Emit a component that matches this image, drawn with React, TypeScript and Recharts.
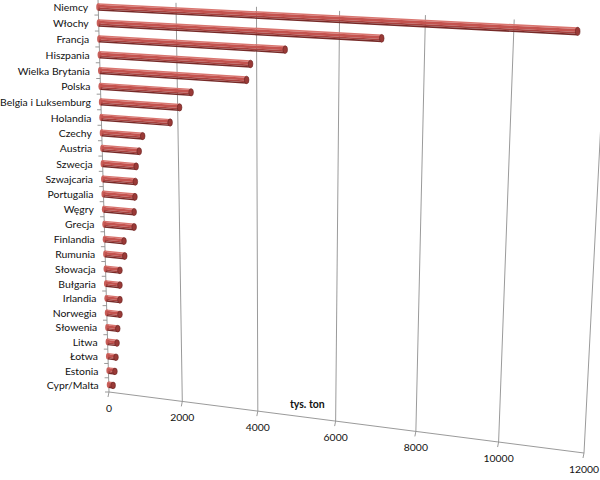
import { Bar, BarChart, CartesianGrid, XAxis, YAxis } from "recharts";

// Wartości (tys. ton)
const countries = [
  "Niemcy",
  "Włochy",
  "Francja",
  "Hiszpania",
  "Wielka Brytania",
  "Polska",
  "Belgia i Luksemburg",
  "Holandia",
  "Czechy",
  "Austria",
  "Szwecja",
  "Szwajcaria",
  "Portugalia",
  "Węgry",
  "Grecja",
  "Finlandia",
  "Rumunia",
  "Słowacja",
  "Bułgaria",
  "Irlandia",
  "Norwegia",
  "Słowenia",
  "Litwa",
  "Łotwa",
  "Estonia",
  "Cypr/Malta",
];

const tonnes = [
  11400, 7000, 4700, 3850, 3750, 2350, 2050, 1800, 1080, 980, 890, 860, 840, 810, 800, 520, 530, 390,
  380, 370, 360, 290, 260, 220, 180, 120,
];

const valueTicks = [0, 2000, 4000, 6000, 8000, 10000, 12000];

const data = countries.map((name, i) => ({ name, value: tonnes[i] }));

// flat plot box (what recharts lays out) and the skewed 3d-ish box it is projected onto
const L = 100;
const T = 0;
const W = 490;
const H = 393;
const TL = [98, -1];
const TR = [606, 24];
const BR = [584, 453];
const BL = [109, 392];

const FONT = "Lato, 'Open Sans', sans-serif";
const GRID = "#8e8e8e";

function makeProjection() {
  const [x0, y0] = TL;
  const [x1, y1] = TR;
  const [x2, y2] = BR;
  const [x3, y3] = BL;
  const dx1 = x1 - x2;
  const dx2 = x3 - x2;
  const dx3 = x0 - x1 + x2 - x3;
  const dy1 = y1 - y2;
  const dy2 = y3 - y2;
  const dy3 = y0 - y1 + y2 - y3;
  const den = dx1 * dy2 - dx2 * dy1;
  const g = (dx3 * dy2 - dx2 * dy3) / den;
  const h = (dx1 * dy3 - dx3 * dy1) / den;
  const a = x1 - x0 + g * x1;
  const b = x3 - x0 + h * x3;
  const d = y1 - y0 + g * y1;
  const e = y3 - y0 + h * y3;
  return (u: number, v: number): [number, number] => {
    const w = g * u + h * v + 1;
    return [(a * u + b * v + x0) / w, (d * u + e * v + y0) / w];
  };
}

const P = makeProjection();
const toU = (x: number) => (x - L) / W;
const toV = (y: number) => (y - T) / H;

const pts = (list: [number, number][]) => list.map((p) => `${p[0].toFixed(1)},${p[1].toFixed(1)}`).join(" ");

const STRIPS: [number, number, string][] = [
  [0, 0.2, "#d9756f"],
  [0.2, 0.58, "#c4534f"],
  [0.58, 0.8, "#a8413e"],
  [0.8, 1, "#772a28"],
];

function CylinderBar(props: any) {
  const { x, y, width, height } = props;
  if (width == null || height == null) return null;
  const u0 = toU(x);
  const u1 = toU(x + width);
  const v0 = toV(y);
  const v1 = toV(y + height);
  const lt = P(u0, v0);
  const lb = P(u0, v1);
  const rt = P(u1, v0);
  const rb = P(u1, v1);
  const ry = Math.hypot(rb[0] - rt[0], rb[1] - rt[1]) / 2;
  const ly = Math.hypot(lb[0] - lt[0], lb[1] - lt[1]) / 2;
  return (
    <g>
      <ellipse cx={(lt[0] + lb[0]) / 2} cy={(lt[1] + lb[1]) / 2} rx={2} ry={ly} fill="#c9605b" />
      {STRIPS.map(([a, b, c]) => {
        const va = v0 + (v1 - v0) * a;
        const vb = v0 + (v1 - v0) * b;
        return <polygon key={a} points={pts([P(u0, va), P(u1, va), P(u1, vb), P(u0, vb)])} fill={c} />;
      })}
      <ellipse
        cx={(rt[0] + rb[0]) / 2}
        cy={(rt[1] + rb[1]) / 2}
        rx={2.3}
        ry={ry}
        fill="#9a3a37"
        stroke="#6a2422"
        strokeWidth={0.6}
      />
    </g>
  );
}

function GridLine(props: any) {
  const u = toU(props.x1);
  const top = P(u, 0);
  const bottom = P(u, 1);
  return <line key={props.key} x1={top[0]} y1={top[1]} x2={bottom[0]} y2={bottom[1]} stroke={GRID} strokeWidth={0.9} />;
}

function CategoryTick(props: any) {
  const { y, payload, index } = props;
  const v = toV(y);
  const half = 0.5 / countries.length;
  const p = P(0, v);
  const b = P(0, v - half);
  const e = P(0, v + half);
  return (
    <g>
      <line x1={b[0] - 4} y1={b[1]} x2={b[0]} y2={b[1]} stroke={GRID} strokeWidth={0.9} />
      {index === countries.length - 1 && <line x1={e[0] - 4} y1={e[1]} x2={e[0]} y2={e[1]} stroke={GRID} strokeWidth={0.9} />}
      <text x={p[0] - 10} y={p[1]} textAnchor="end" dominantBaseline="central" fontSize={10.4} fill="#111" fontFamily={FONT}>
        {payload.value}
      </text>
    </g>
  );
}

function ValueTick(props: any) {
  const { x, payload, index } = props;
  const p = P(toU(x), 1);
  const start = P(0, 1);
  const end = P(1, 1);
  return (
    <g>
      {index === 0 && <line x1={start[0]} y1={start[1]} x2={end[0]} y2={end[1]} stroke={GRID} strokeWidth={0.9} />}
      <line x1={p[0]} y1={p[1]} x2={p[0] - 1} y2={p[1] + 5} stroke={GRID} strokeWidth={0.9} />
      <text x={p[0]} y={p[1] + 16} textAnchor="middle" dominantBaseline="central" fontSize={10.4} fill="#111" fontFamily={FONT}>
        {payload.value}
      </text>
    </g>
  );
}

function UnitLabel() {
  const p = P(0.44, 1);
  return (
    <text x={p[0]} y={p[1] - 13} textAnchor="middle" dominantBaseline="central" fontSize={10.5} fontWeight="bold" fill="#111" fontFamily={FONT}>
      tys. ton
    </text>
  );
}

export default function App() {
  return (
    <div style={{ position: "absolute", left: 0, top: 0, width: 600, height: 480, background: "#fff" }}>
      <BarChart
        width={600}
        height={480}
        data={data}
        layout="vertical"
        margin={{ top: 0, right: 10, bottom: 57, left: 0 }}
        barCategoryGap={0}
      >
        <CartesianGrid horizontal={false} vertical={GridLine} />
        <XAxis
          type="number"
          domain={[0, 12000]}
          ticks={valueTicks}
          height={30}
          axisLine={false}
          tickLine={false}
          tick={ValueTick}
          interval={0}
          label={{ content: UnitLabel }}
        />
        <YAxis type="category" dataKey="name" width={100} axisLine={false} tickLine={false} tick={CategoryTick} interval={0} />
        <Bar dataKey="value" barSize={7} shape={CylinderBar} isAnimationActive={false} />
      </BarChart>
    </div>
  );
}
